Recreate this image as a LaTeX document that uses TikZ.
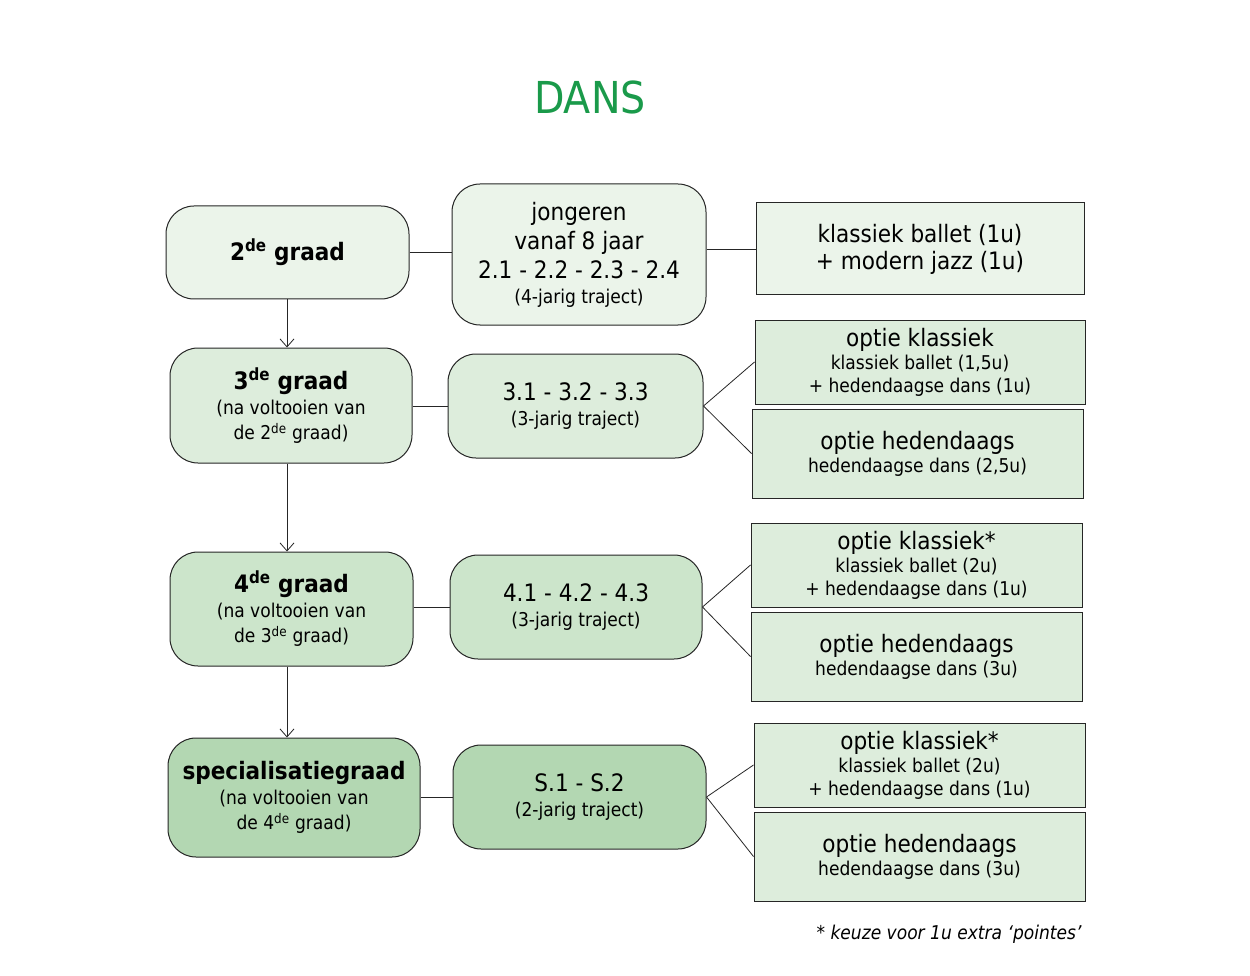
\documentclass[tikz,border=0pt]{standalone}
\usepackage{fontspec}
\setmainfont{DejaVu Sans Condensed}
\usetikzlibrary{arrows.meta}
\definecolor{titlegreen}{HTML}{1A9A4A}
\definecolor{gA}{HTML}{EBF4EA}
\definecolor{gB}{HTML}{DDEDDC}
\definecolor{gC}{HTML}{CCE5CB}
\definecolor{gD}{HTML}{B3D7B2}
\newcommand{\bx}[5]{\node[#5, minimum width=#3-#1, minimum height=#4-#2] at ({(#1+#3)/2},{-(#2+#4)/2})}
\tikzset{
 rbox/.style={draw=black!85, line width=1pt, rounded corners=28pt, align=center, inner sep=0pt, font=\fontsize{24}{29}\selectfont},
 sbox/.style={draw=black!85, line width=1pt, align=center, inner sep=0pt, font=\fontsize{24}{27}\selectfont},
 small/.style={font=\fontsize{19}{26}\selectfont},
 conn/.style={line width=0.8pt, black!85},
 arr/.style={conn, -{Straight Barb[length=8pt,width=14pt]}}
}
\newcommand{\sm}{\fontsize{19}{26}\selectfont}
\newcommand{\de}{\textsuperscript{de}}
\begin{document}
\begin{tikzpicture}[x=1pt,y=1pt]
\useasboundingbox[fill=white] (0,0) rectangle (1250,-976);
\node[text=titlegreen, font=\fontsize{44}{50}\selectfont] (title) at (590,-97) {DANS};
% row 1
\bx{166}{206}{409}{299}{rbox, fill=gA} (g2) {\textbf{2\de{} graad}};
\bx{452}{184}{706}{325}{rbox, fill=gA} (m2) {jongeren\\vanaf 8 jaar\\2.1 - 2.2 - 2.3 - 2.4\\[-4pt]{\sm(4-jarig traject)}};
\bx{756}{203}{1084}{295}{sbox, fill=gA} (r2) {klassiek ballet (1u)\\+ modern jazz (1u)};
% row 2
\bx{170}{348}{412}{463}{rbox, fill=gB} (g3) {\textbf{3\de{} graad}\\[-4pt]{\sm(na voltooien van}\\[-4pt]{\sm de 2\de{} graad)}};
\bx{448}{354}{703}{458}{rbox, fill=gB} (m3) {3.1 - 3.2 - 3.3\\[-4pt]{\sm(3-jarig traject)}};
\bx{755}{320}{1085}{404}{sbox, fill=gB} (k3) {optie klassiek\\[-4pt]{\sm klassiek ballet (1,5u)}\\[-4pt]{\sm + hedendaagse dans (1u)}};
\bx{752}{409}{1083}{498}{sbox, fill=gB} (h3) {optie hedendaags\\[-4pt]{\sm hedendaagse dans (2,5u)}};
% row 3
\bx{170}{552}{413}{666}{rbox, fill=gC} (g4) {\textbf{4\de{} graad}\\[-4pt]{\sm(na voltooien van}\\[-4pt]{\sm de 3\de{} graad)}};
\bx{450}{555}{702}{659}{rbox, fill=gC} (m4) {4.1 - 4.2 - 4.3\\[-4pt]{\sm(3-jarig traject)}};
\bx{751}{523}{1082}{607}{sbox, fill=gB} (k4) {optie klassiek*\\[-4pt]{\sm klassiek ballet (2u)}\\[-4pt]{\sm + hedendaagse dans (1u)}};
\bx{751}{612}{1082}{701}{sbox, fill=gB} (h4) {optie hedendaags\\[-4pt]{\sm hedendaagse dans (3u)}};
% row 4
\bx{168}{738}{420}{857}{rbox, fill=gD} (gs) {\textbf{specialisatiegraad}\\[-4pt]{\sm(na voltooien van}\\[-4pt]{\sm de 4\de{} graad)}};
\bx{453}{745}{706}{849}{rbox, fill=gD} (ms) {S.1 - S.2\\[-4pt]{\sm(2-jarig traject)}};
\bx{754}{723}{1085}{807}{sbox, fill=gB} (ks) {optie klassiek*\\[-4pt]{\sm klassiek ballet (2u)}\\[-4pt]{\sm + hedendaagse dans (1u)}};
\bx{754}{812}{1085}{901}{sbox, fill=gB} (hs) {optie hedendaags\\[-4pt]{\sm hedendaagse dans (3u)}};
\node[anchor=east, font=\fontsize{19}{22}\selectfont\itshape] (foot) at (1085,-934) {* keuze voor 1u extra ‘pointes’};
% connectors
\draw[arr] (g2.south -| 287,0) -- (g3.north -| 287,0);
\draw[arr] (g3.south -| 287,0) -- (g4.north -| 287,0);
\draw[arr] (g4.south -| 287,0) -- (gs.north -| 287,0);
\draw[conn] (g2.east) -- (g2.east -| m2.west);
\draw[conn] (m2.east |- r2.west) -- (r2.west);
\draw[conn] (g3.east |- m3.west) -- (m3.west);
\draw[conn] (g4.east |- m4.west) -- (m4.west);
\draw[conn] (gs.east |- ms.west) -- (ms.west);
\draw[conn] (m3.east) -- (k3.west); \draw[conn] (m3.east) -- (h3.west);
\draw[conn] (m4.east) -- (k4.west); \draw[conn] (m4.east) -- (h4.west);
\draw[conn] (ms.east) -- (ks.west); \draw[conn] (ms.east) -- (hs.west);
\end{tikzpicture}
\end{document}
